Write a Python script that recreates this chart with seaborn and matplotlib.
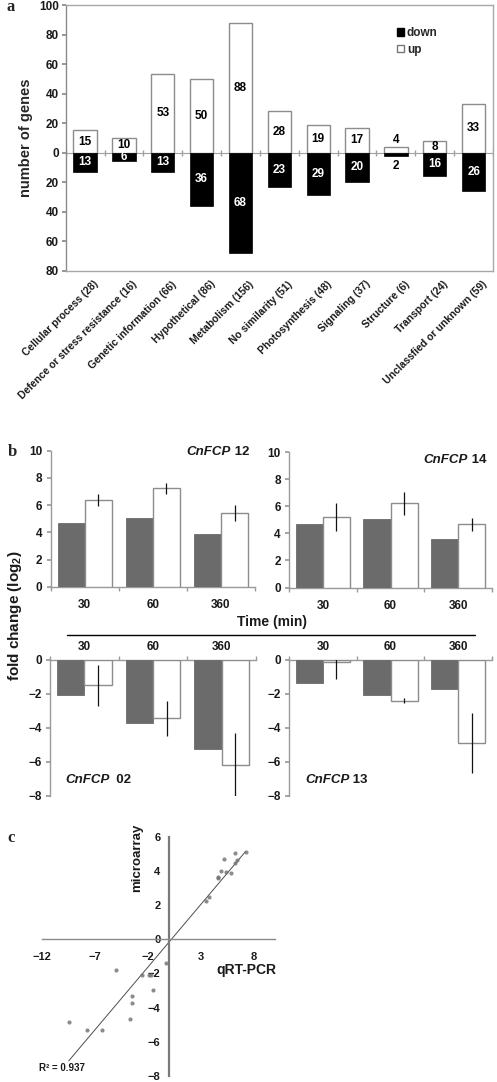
import numpy as np
import pandas as pd
import matplotlib
matplotlib.use("Agg")
import matplotlib.pyplot as plt
import seaborn as sns
from matplotlib.patches import Patch
from matplotlib.lines import Line2D
from matplotlib.ticker import FuncFormatter, FixedLocator
import matplotlib.transforms as mtransforms

# ---------------- data ----------------
categories = ["Cellular process (28)", "Defence or stress resistance (16)",
              "Genetic information (66)", "Hypothetical (86)", "Metabolism (156)",
              "No similarity (51)", "Photosynthesis (48)", "Signaling (37)",
              "Structure (6)", "Transport (24)", "Unclassfied or unknown (59)"]
up_counts = [15, 10, 53, 50, 88, 28, 19, 17, 4, 8, 33]
down_counts = [13, 6, 13, 36, 68, 23, 29, 20, 2, 16, 26]

times = ["30", "60", "360"]
fcp12_micro = [4.65, 5.05, 3.9]
fcp12_qpcr = [6.35, 7.25, 5.4]
fcp12_err = [0.45, 0.4, 0.6]
fcp14_micro = [4.65, 5.05, 3.6]
fcp14_qpcr = [5.2, 6.2, 4.65]
fcp14_err = [1.05, 0.85, 0.5]
fcp02_micro = [-2.1, -3.7, -5.25]
fcp02_qpcr = [-1.5, -3.45, -6.2]
fcp02_err = [1.2, 1.05, 1.9]
fcp13_micro = [-1.35, -2.05, -1.75]
fcp13_qpcr = [-0.15, -2.4, -4.9]
fcp13_err = [1.0, 0.15, 1.75]

qpcr_x = [7.22, 6.22, 5.21, 6.37, 6.22, 4.9, 5.4, 5.84, 4.62, 4.65, 3.77, 3.48,
          -0.25, -4.96, -2.51, -1.92, -1.66, -1.48, -3.52, -3.52, -3.7, -9.45, -7.72, -6.31]
microarray_y = [5.1, 5.07, 4.70, 4.66, 4.45, 4.0, 3.92, 3.9, 3.67, 3.6, 2.5, 2.23,
                -1.38, -1.79, -2.08, -2.08, -2.08, -2.97, -3.3, -3.71, -4.68, -4.83, -5.32, -5.28]

# ---------------- style ----------------
sns.set_theme(style="white")
plt.rcParams["font.family"] = ["Liberation Sans", "DejaVu Sans"]
plt.rcParams["font.weight"] = "bold"
plt.rcParams["axes.labelweight"] = "bold"
plt.rcParams["mathtext.default"] = "regular"

W, H = 497, 1082
fig = plt.figure(figsize=(W / 100, H / 100), dpi=100)
fig.patch.set_facecolor("white")

SPINE = "#9a9a9a"
TICKC = "#1a1a1a"


def px_axes(left, top, right, bottom):
    return fig.add_axes([left / W, 1 - bottom / H, (right - left) / W, (bottom - top) / H])


# ---------------- panel a ----------------
axa = px_axes(65.7, 5, 493, 270.7)
sns.barplot(x=categories, y=up_counts, color="white", edgecolor="#8c8c8c",
            linewidth=1.0, width=0.6, saturation=1, ax=axa, zorder=3)
sns.barplot(x=categories, y=[-d for d in down_counts], color="black", edgecolor="black",
            linewidth=0.5, width=0.6, saturation=1, ax=axa, zorder=3)
axa.set_xlim(-0.5, len(categories) - 0.5)
axa.set_ylim(-80, 100)
axa.set_yticks(np.arange(-80, 101, 20))
axa.yaxis.set_major_formatter(FuncFormatter(lambda v, p: f"{abs(int(round(v)))}"))
axa.axhline(0, color="#a0a0a0", lw=0.8, zorder=2)
bounds = np.arange(len(categories) + 1) - 0.5
axa.plot(bounds, np.zeros_like(bounds), ls="none", marker="|", ms=4, color="#a0a0a0", zorder=2)
for s in axa.spines.values():
    s.set_color("#a8a8a8")
    s.set_linewidth(1.0)
axa.spines["left"].set_color("#8a8a8a")
axa.tick_params(axis="y", left=True, length=3, color="#8a8a8a", labelsize=8.5,
                labelcolor=TICKC, pad=2)
axa.tick_params(axis="x", bottom=False, length=0, labelsize=7.5, labelcolor=TICKC, pad=6)
for lab in axa.get_xticklabels():
    lab.set_rotation(45)
    lab.set_ha("right")
    lab.set_va("top")
    lab.set_rotation_mode("anchor")
    lab.set_fontweight("bold")
    lab.set_transform(lab.get_transform() + mtransforms.ScaledTranslation(6 / 72, 0, fig.dpi_scale_trans))
for lab in axa.get_yticklabels():
    lab.set_fontweight("bold")
axa.set_ylabel("number of genes", fontsize=10.5, labelpad=4)

for i, (u, d) in enumerate(zip(up_counts, down_counts)):
    if u >= 5:
        axa.text(i, u / 2, str(u), ha="center", va="center", fontsize=8.5, color="black", zorder=4)
    else:
        axa.text(i, u + 4.8, str(u), ha="center", va="center", fontsize=8.5, color="black", zorder=4)
    if d >= 5:
        axa.text(i, -d / 2, str(d), ha="center", va="center", fontsize=8.5, color="white", zorder=4)
    else:
        axa.text(i, -d - 7, str(d), ha="center", va="center", fontsize=8.5, color="black", zorder=4)

leg = axa.legend(handles=[Patch(facecolor="black", edgecolor="black", label="down"),
                          Patch(facecolor="white", edgecolor="#777777", label="up")],
                 loc="upper left", bbox_to_anchor=(0.765, 0.935), frameon=False,
                 fontsize=8.5, handlelength=0.6, handleheight=0.6, handletextpad=0.2,
                 labelspacing=0.4, borderaxespad=0)

# ---------------- panel b ----------------
def bar_panel(ax, micro, qpcr, err, top_panel):
    df = pd.DataFrame({"time": times * 2, "value": micro + qpcr,
                       "method": ["microarray"] * len(times) + ["qRT-PCR"] * len(times)})
    sns.barplot(data=df, x="time", y="value", hue="method", order=times,
                hue_order=["microarray", "qRT-PCR"],
                palette={"microarray": "#6b6b6b", "qRT-PCR": "white"},
                width=0.8, errorbar=None, saturation=1, legend=False, ax=ax, zorder=3)
    for b in ax.containers[0]:
        b.set_edgecolor("#6b6b6b")
        b.set_linewidth(0.6)
    for b in ax.containers[1]:
        b.set_edgecolor("#8c8c8c")
        b.set_linewidth(1.0)
    xs = [b.get_x() + b.get_width() / 2 for b in ax.containers[1]]
    ax.errorbar(xs, qpcr, yerr=err, fmt="none", ecolor="#111111", elinewidth=0.9,
                capsize=0, zorder=4)
    ax.set_xlim(-0.5, len(times) - 0.5)
    ax.set_xlabel("")
    ax.set_ylabel("")
    if top_panel:
        ax.set_ylim(0, 10)
        ax.set_yticks(np.arange(0, 11, 2))
        keep = ["left", "bottom"]
    else:
        ax.set_ylim(-8, 0)
        ax.set_yticks(np.arange(-8, 1, 2))
        ax.xaxis.tick_top()
        keep = ["left", "top"]
    for k, s in ax.spines.items():
        if k in keep:
            s.set_visible(True)
            s.set_color(SPINE)
            s.set_linewidth(1.0)
        else:
            s.set_visible(False)
    ax.xaxis.set_minor_locator(FixedLocator(np.arange(len(times) + 1) - 0.5))
    ax.tick_params(axis="x", which="major", length=0, labelsize=8.5, labelcolor=TICKC,
                   pad=9 if top_panel else 4.5)
    ax.tick_params(axis="x", which="minor", length=3, color=SPINE, direction="out",
                   bottom=top_panel, top=not top_panel)
    ax.tick_params(axis="y", left=True, length=3, color=SPINE, labelsize=8.5,
                   labelcolor=TICKC, pad=3)
    for lab in ax.get_xticklabels() + ax.get_yticklabels():
        lab.set_fontweight("bold")


def gene_label(ax, x, y, number):
    t = ax.text(x, y, "CnFCP", transform=ax.transAxes, fontsize=9.5, style="italic",
                fontweight="bold", ha="left", va="center", color=TICKC)
    ax.annotate(number, xy=(1, 0), xycoords=t, va="bottom", ha="left",
                fontsize=9.5, fontweight="bold", color=TICKC)


ax12 = px_axes(50.7, 450.7, 255, 586.7)
bar_panel(ax12, fcp12_micro, fcp12_qpcr, fcp12_err, True)
gene_label(ax12, 0.665, 0.99, " 12")

ax14 = px_axes(289, 452, 492, 587.5)
bar_panel(ax14, fcp14_micro, fcp14_qpcr, fcp14_err, True)
gene_label(ax14, 0.662, 0.94, " 14")

ax02 = px_axes(50, 659.7, 256, 795.7)
bar_panel(ax02, fcp02_micro, fcp02_qpcr, fcp02_err, False)
gene_label(ax02, 0.073, 0.115, "  02")

ax13 = px_axes(289, 659.7, 492, 795.7)
bar_panel(ax13, fcp13_micro, fcp13_qpcr, fcp13_err, False)
gene_label(ax13, 0.079, 0.115, " 13")

fig.text(272 / W, 1 - 621.7 / H, "Time (min)", ha="center", va="center",
         fontsize=10, fontweight="bold", color=TICKC)
fig.add_artist(Line2D([67 / W, 475 / W], [1 - 635 / H, 1 - 635 / H], color="black",
                      lw=1.0, transform=fig.transFigure))
fig.text(15 / W, 1 - 616 / H, "fold change (log$_2$)", rotation=90, ha="center",
         va="center", fontsize=11, fontweight="bold", color=TICKC)

# ---------------- panel c ----------------
axc = px_axes(41.7, 836.7, 275, 1076)
sns.regplot(x=np.array(qpcr_x), y=np.array(microarray_y), ci=None, truncate=True, ax=axc,
            scatter_kws=dict(s=9, color="#707070", linewidths=0, zorder=3),
            line_kws=dict(color="#4d4d4d", lw=0.7, zorder=2))
axc.set_xlim(-12, 10)
axc.set_ylim(-8, 6)
axc.set_xticks([-12, -7, -2, 3, 8])
axc.set_yticks(np.arange(-8, 7, 2))
axc.set_xlabel("")
axc.set_ylabel("")
axc.spines["left"].set_position(("data", 0))
axc.spines["bottom"].set_position(("data", 0))
axc.spines["right"].set_visible(False)
axc.spines["top"].set_visible(False)
axc.spines["left"].set_color("#7a7a7a")
axc.spines["left"].set_linewidth(1.6)
axc.spines["bottom"].set_color("#8a8a8a")
axc.spines["bottom"].set_linewidth(1.0)
axc.tick_params(axis="both", length=3, color="#8a8a8a", labelsize=8, labelcolor=TICKC,
                direction="out")
axc.tick_params(axis="x", pad=6)
axc.tick_params(axis="y", pad=3)
for lab in axc.get_xticklabels() + axc.get_yticklabels():
    lab.set_fontweight("bold")
axc.set_facecolor("none")
axc.text(0.408, 0.911, "microarray", transform=axc.transAxes, rotation=90, ha="center",
         va="center", fontsize=9.5, fontweight="bold", color=TICKC)
axc.text(1.004, 0.445, "qRT-PCR", transform=axc.transAxes, ha="right", va="center",
         fontsize=10, fontweight="bold", color=TICKC)
axc.text(-0.01, 0.033, "R² = 0.937", transform=axc.transAxes, ha="left", va="center",
         fontsize=7, fontweight="bold", color=TICKC)

# ---------------- panel letters ----------------
for letter, (x, y) in {"a": (11, 7), "b": (12, 452), "c": (11, 838)}.items():
    fig.text(x / W, 1 - y / H, letter, ha="center", va="center", fontsize=12,
             fontweight="bold", family=["Liberation Serif", "DejaVu Serif"])

fig.savefig("out.png", dpi=100, facecolor="white")
